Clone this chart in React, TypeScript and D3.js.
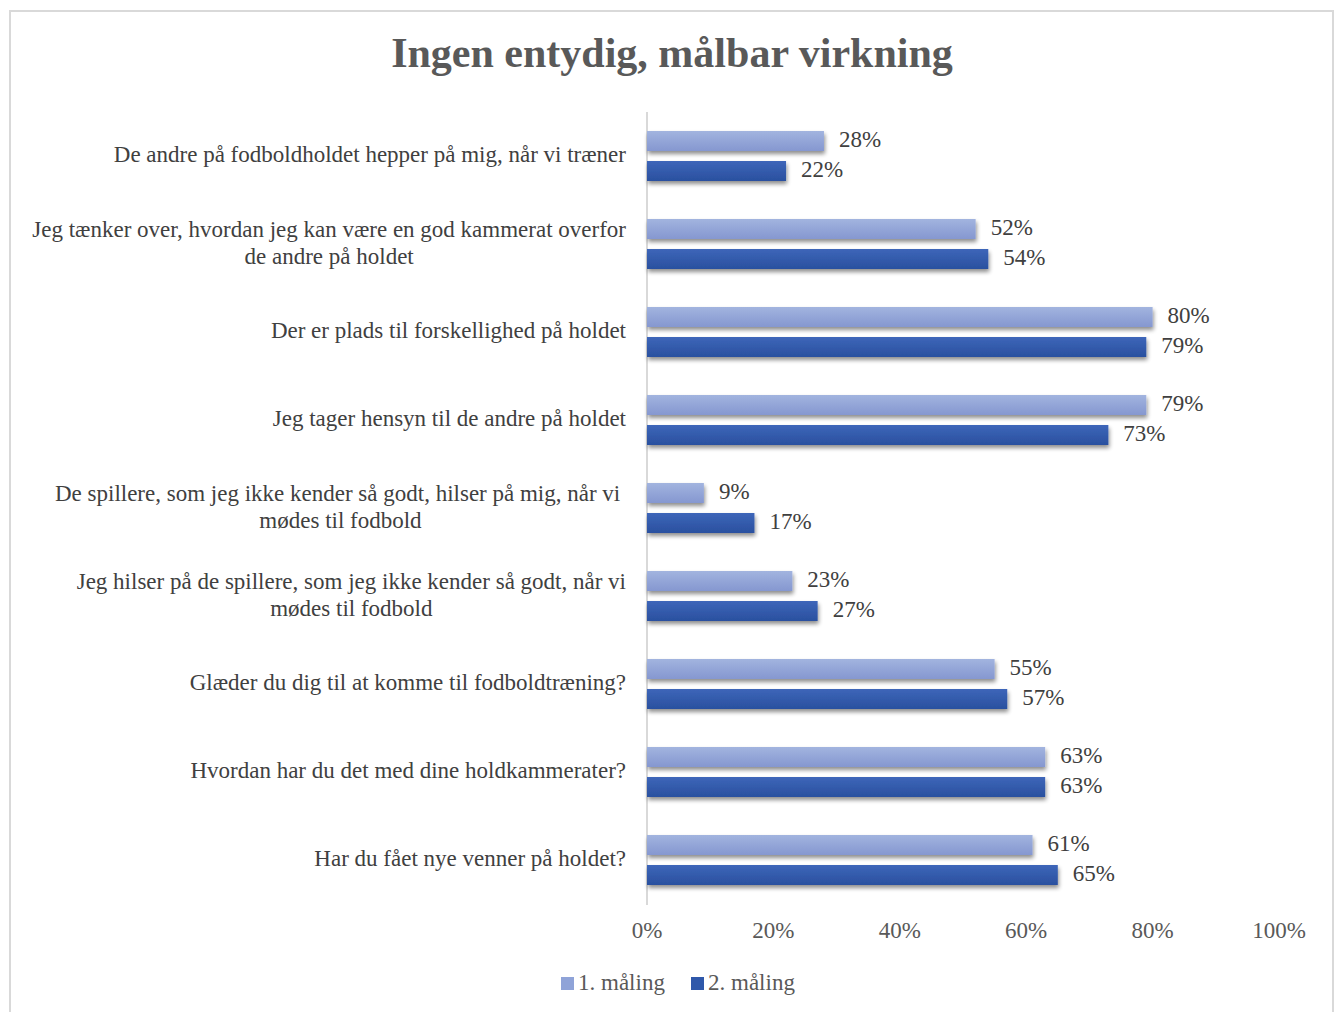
import React from "react";
import * as d3 from "d3";

const title = "Ingen entydig, målbar virkning";
const categories = [
  "De andre på fodboldholdet hepper på mig, når vi træner",
  "Jeg tænker over, hvordan jeg kan være en god kammerat overfor\nde andre på holdet",
  "Der er plads til forskellighed på holdet",
  "Jeg tager hensyn til de andre på holdet",
  "De spillere, som jeg ikke kender så godt, hilser på mig, når vi \nmødes til fodbold",
  "Jeg hilser på de spillere, som jeg ikke kender så godt, når vi\nmødes til fodbold",
  "Glæder du dig til at komme til fodboldtræning?",
  "Hvordan har du det med dine holdkammerater?",
  "Har du fået nye venner på holdet?",
];
const seriesNames = ["1. måling", "2. måling"];
const maaling1 = [28, 52, 80, 79, 9, 23, 55, 63, 61];
const maaling2 = [22, 54, 79, 73, 17, 27, 57, 63, 65];
const xTicks = [0, 20, 40, 60, 80, 100];

const W = 1341;
const H = 1012;
const FONT = "'Liberation Serif', 'Times New Roman', serif";
const FS = 23;

let ctx: CanvasRenderingContext2D | null = null;
function measure(s: string): number {
  if (!ctx) {
    const c = document.createElement("canvas");
    ctx = c.getContext("2d");
  }
  if (!ctx) return s.length * FS * 0.45;
  ctx.font = `${FS}px ${FONT}`;
  return ctx.measureText(s).width;
}

export default function App() {
  const x = d3.scaleLinear().domain([0, 100]).range([647, 1279]);
  const y = d3.scaleBand<number>().domain(d3.range(categories.length)).range([112, 904]);
  const barH = 20;
  const gap = 10;
  const series = [maaling1, maaling2];
  const fills = ["url(#g1)", "url(#g2)"];
  const legendFills = ["#8fa3d8", "#2f58aa"];
  const labelRight = 626;

  return (
    <div style={{ position: "absolute", left: 0, top: 0 }}>
      <svg width={W} height={H} style={{ display: "block", fontFamily: FONT }}>
        <defs>
          <linearGradient id="g1" x1="0" y1="0" x2="0" y2="1">
            <stop offset="0" stopColor="#a2b4df" />
            <stop offset="1" stopColor="#8597d0" />
          </linearGradient>
          <linearGradient id="g2" x1="0" y1="0" x2="0" y2="1">
            <stop offset="0" stopColor="#3d66b9" />
            <stop offset="1" stopColor="#2a509f" />
          </linearGradient>
          <filter id="sh" x="-10%" y="-30%" width="130%" height="190%">
            <feGaussianBlur in="SourceAlpha" stdDeviation="2" />
            <feOffset dx="1" dy="3" result="b" />
            <feComponentTransfer>
              <feFuncA type="linear" slope="0.45" />
            </feComponentTransfer>
            <feMerge>
              <feMergeNode />
              <feMergeNode in="SourceGraphic" />
            </feMerge>
          </filter>
        </defs>
        <rect x={0} y={0} width={W} height={H} fill="#ffffff" />
        <rect x={10} y={11} width={1323} height={1010} fill="#ffffff" stroke="#d9d9d9" strokeWidth={2} />
        <text x={672} y={57} textAnchor="middle" dominantBaseline="middle" fontSize={42} fontWeight="bold" fill="#595959">
          {title}
        </text>
        <line x1={x(0)} x2={x(0)} y1={112} y2={905} stroke="#d9d9d9" strokeWidth={2} />
        {categories.map((c, i) => {
          const cy = (y(i) as number) + y.bandwidth() / 2;
          const lines = c.split("\n");
          const lh = 27;
          const maxW = d3.max(lines, (l) => measure(l)) as number;
          const cx = labelRight - maxW / 2;
          return (
            <g key={i}>
              {lines.map((l, j) => (
                <text
                  key={j}
                  x={lines.length > 1 ? cx : labelRight}
                  y={cy + 1 + (j - (lines.length - 1) / 2) * lh}
                  textAnchor={lines.length > 1 ? "middle" : "end"}
                  dominantBaseline="middle"
                  fontSize={FS}
                  fill="#404040"
                  style={{ whiteSpace: "pre" }}
                >
                  {l}
                </text>
              ))}
              {series.map((s, k) => {
                const by = k === 0 ? cy - gap / 2 - barH : cy + gap / 2;
                return (
                  <g key={k}>
                    <rect
                      x={x(0)}
                      y={by}
                      width={x(s[i]) - x(0)}
                      height={barH}
                      fill={fills[k]}
                      filter="url(#sh)"
                    />
                    <text
                      x={x(s[i]) + 15}
                      y={by + barH / 2 + 1}
                      dominantBaseline="middle"
                      fontSize={FS}
                      fill="#404040"
                    >
                      {s[i]}%
                    </text>
                  </g>
                );
              })}
            </g>
          );
        })}
        {xTicks.map((t) => (
          <text key={t} x={x(t)} y={933} textAnchor="middle" dominantBaseline="middle" fontSize={FS} fill="#595959">
            {t}%
          </text>
        ))}
        {seriesNames.map((n, k) => {
          const lx = k === 0 ? 561 : 691;
          return (
            <g key={k}>
              <rect x={lx} y={977} width={13} height={13} fill={legendFills[k]} />
              <text x={lx + 17} y={985} dominantBaseline="middle" fontSize={FS} fill="#595959">
                {n}
              </text>
            </g>
          );
        })}
      </svg>
    </div>
  );
}
